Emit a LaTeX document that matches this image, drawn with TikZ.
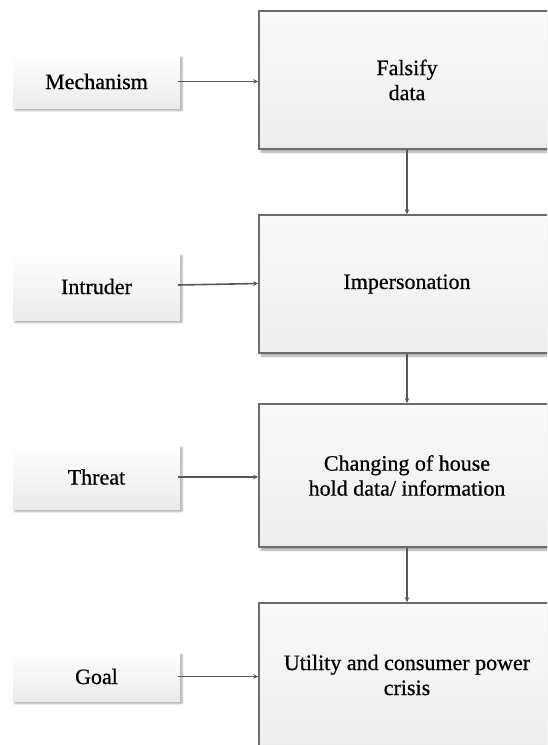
\documentclass[tikz,border=0pt]{standalone}
\usepackage{fontspec}
\setmainfont{Liberation Serif}
\newfontfamily\labelfont[FakeBold=0.6]{Liberation Serif}
\usetikzlibrary{arrows.meta,shadows.blur}
\definecolor{edge}{HTML}{6C6C6C}
\definecolor{wire}{HTML}{585858}
\begin{document}
\begin{tikzpicture}[x=1pt,y=-1pt,
  every node/.style={font=\labelfont\fontsize{22}{25}\selectfont, align=center, inner sep=0pt},
  factor/.style={rectangle, minimum width=167pt, top color=white, bottom color=black!8,
    blur shadow={shadow xshift=2pt, shadow yshift=-2.5pt, shadow blur steps=4, shadow opacity=35}},
  stage/.style={rectangle, draw=edge, line width=1.6pt, minimum width=296pt, minimum height=138pt,
    top color=black!2, bottom color=black!7,
    blur shadow={shadow xshift=2pt, shadow yshift=-3pt, shadow blur steps=4, shadow opacity=35}},
  feed/.style={draw=wire, line width=1.6pt, -{Stealth[length=5pt,width=4.5pt]}}]
\useasboundingbox (0,0) rectangle (547,745);
\clip (0,0) rectangle (547,745);

% attack stages (right column)
\node[stage] (falsify) at (407,80) {Falsify\\data};
\node[stage] (imp) at (407,284) {Impersonation};
\node[stage, minimum height=143pt] (change) at (407,475.5) {Changing of house\\hold data/ information};
\node[stage, minimum height=144pt] (crisis) at (407,675) {Utility and consumer power\\crisis};

% attack descriptors (left column)
\node[factor, minimum height=53pt] (mech) at (96.5,81.5) {Mechanism};
\node[factor, minimum height=67pt] (intr) at (96.5,286.5) {Intruder};
\node[factor, minimum height=64pt] (threat) at (96.5,477) {Threat};
\node[factor, minimum height=49pt] (goal) at (96.5,676.5) {Goal};

% descriptor -> stage
\draw[feed] ([xshift=-2pt]mech.east) -- (mech.east -| falsify.west);
\draw[feed] ([xshift=-2pt,yshift=1.5pt]intr.east) -- ([yshift=0.5pt]imp.west);
\draw[feed] ([xshift=-2pt]threat.east) -- (threat.east -| change.west);
\draw[feed] ([xshift=-2pt]goal.east) -- (goal.east -| crisis.west);

% stage -> stage
\draw[feed] (falsify.south) -- (imp.north);
\draw[feed] (imp.south) -- (change.north);
\draw[feed] (change.south) -- (crisis.north);
\end{tikzpicture}
\end{document}
